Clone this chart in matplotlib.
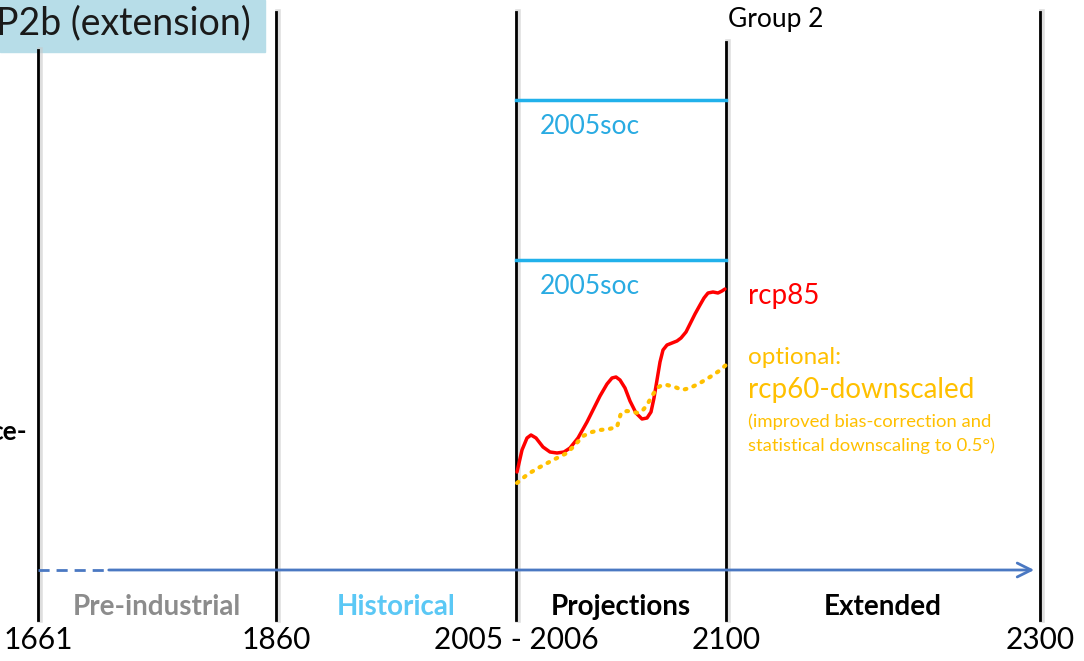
import numpy as np
import matplotlib.pyplot as plt
from matplotlib.patches import Rectangle

plt.rcParams['font.family'] = ['Lato', 'DejaVu Sans']

# schematic timeline, positions in picture units
YEAR_LABELS = ["1661", "1860", "2005 - 2006", "2100", "2300"]
BOUND_X = [38, 276, 516, 726, 1040]
BOUND_TOP = [50, 12, 12, 42, 12]

PERIODS = ["Pre-industrial", "Historical", "Projections", "Extended"]
PERIOD_COLORS = ["#8c8c8c", "#5bc8f5", "black", "black"]

SOC_LABEL = "2005soc"
SOC_Y = [100, 260]

# rcp85 curve
RCP85_X = [517, 522, 527, 531, 536, 543, 550, 557, 564, 570, 578, 587, 594, 600, 607, 612, 616,
           620, 625, 630, 636, 642, 647, 651, 654, 657, 660, 663, 667, 672, 677, 681, 686, 690,
           695, 700, 704, 708, 713, 718, 722, 725]
RCP85_Y = [472, 450, 438, 435, 438, 447, 452, 453, 452, 448, 438, 422, 408, 396, 384, 378, 377,
           380, 388, 401, 413, 419, 418, 412, 398, 380, 362, 350, 345, 343, 341, 338, 332, 324,
           314, 305, 298, 293, 292, 293, 291, 289]

# rcp60-downscaled (dotted)
RCP60_X = [517, 528, 540, 553, 567, 575, 583, 592, 600, 609, 617, 619, 621, 627, 633, 638,
           643, 647, 652, 657, 662, 667, 675, 682, 690, 700, 710, 719, 726]
RCP60_Y = [483, 474, 467, 460, 453, 445, 436, 432, 430, 429, 427, 420, 413, 411, 412, 413,
           410, 405, 396, 388, 385, 385, 387, 390, 388, 383, 377, 371, 365]

fig = plt.figure(figsize=(10.84, 6.61), dpi=100)
ax = fig.add_axes([0, 0, 1, 1])
ax.set_xlim(0, 1084)
ax.set_ylim(661, 0)
ax.axis('off')

# title box
ax.add_patch(Rectangle((0, 0), 265, 52, color="#b7dde8", zorder=1))
ax.text(-4, 23, "P2b (extension)", fontsize=27, va='center', ha='left', color="#1a1a1a")

# vertical boundaries with a soft shadow
for x, top in zip(BOUND_X, BOUND_TOP):
    ax.plot([x + 1.5, x + 1.5], [top, 620], color="#c8c8c8", lw=4, alpha=0.6, zorder=2)
    ax.plot([x, x], [top, 620], color="black", lw=2, zorder=3)

ax.text(728, 19, "Group 2", fontsize=19, va='center', ha='left', color="black")
ax.text(27, 432, "ce-", fontsize=19, fontweight='bold', va='center', ha='right')

# 2005soc lines
for y in SOC_Y:
    ax.plot([BOUND_X[2], BOUND_X[3]], [y, y], color="#21b1eb", lw=2.5, zorder=3)
    ax.text(540, y + 26, SOC_LABEL, fontsize=19, color="#29abe2", va='center', ha='left')

# scenario curves
ax.plot(RCP85_X, RCP85_Y, color="#ff0000", lw=2.5, solid_capstyle='round',
        solid_joinstyle='round', zorder=4)
ax.plot(RCP60_X, RCP60_Y, color="#ffc000", lw=3, linestyle=(0, (0.4, 1.8)),
        dash_capstyle='round', zorder=4)

ax.text(748, 296, "rcp85", fontsize=20, color="#ff0000", va='center', ha='left')
ax.text(748, 357, "optional:", fontsize=17.5, color="#ffc000", va='center', ha='left')
ax.text(748, 390, "rcp60-downscaled", fontsize=20, color="#ffc000", va='center', ha='left')
ax.text(748, 422, "(improved bias-correction and", fontsize=13.3, color="#ffc000",
        va='center', ha='left')
ax.text(748, 446, "statistical downscaling to 0.5°)", fontsize=13.3, color="#ffc000",
        va='center', ha='left')

# time arrow
ax.plot([BOUND_X[0], 105], [570, 570], color="#4a78c2", lw=2, linestyle=(0, (4, 2.5)), zorder=3)
ax.annotate("", xy=(1037, 570), xytext=(106, 570),
            arrowprops=dict(arrowstyle='->', color="#4a78c2", lw=2,
                            mutation_scale=25), zorder=3)

# period labels and years
for i, name in enumerate(PERIODS):
    cx = (BOUND_X[i] + BOUND_X[i + 1]) / 2
    ax.text(cx, 607, name, fontsize=20, fontweight='bold', color=PERIOD_COLORS[i],
            va='center', ha='center')
for x, lab in zip(BOUND_X, YEAR_LABELS):
    ax.text(x, 640, lab, fontsize=21.5, color="black", va='center', ha='center')

fig.savefig("out.png", dpi=100)
